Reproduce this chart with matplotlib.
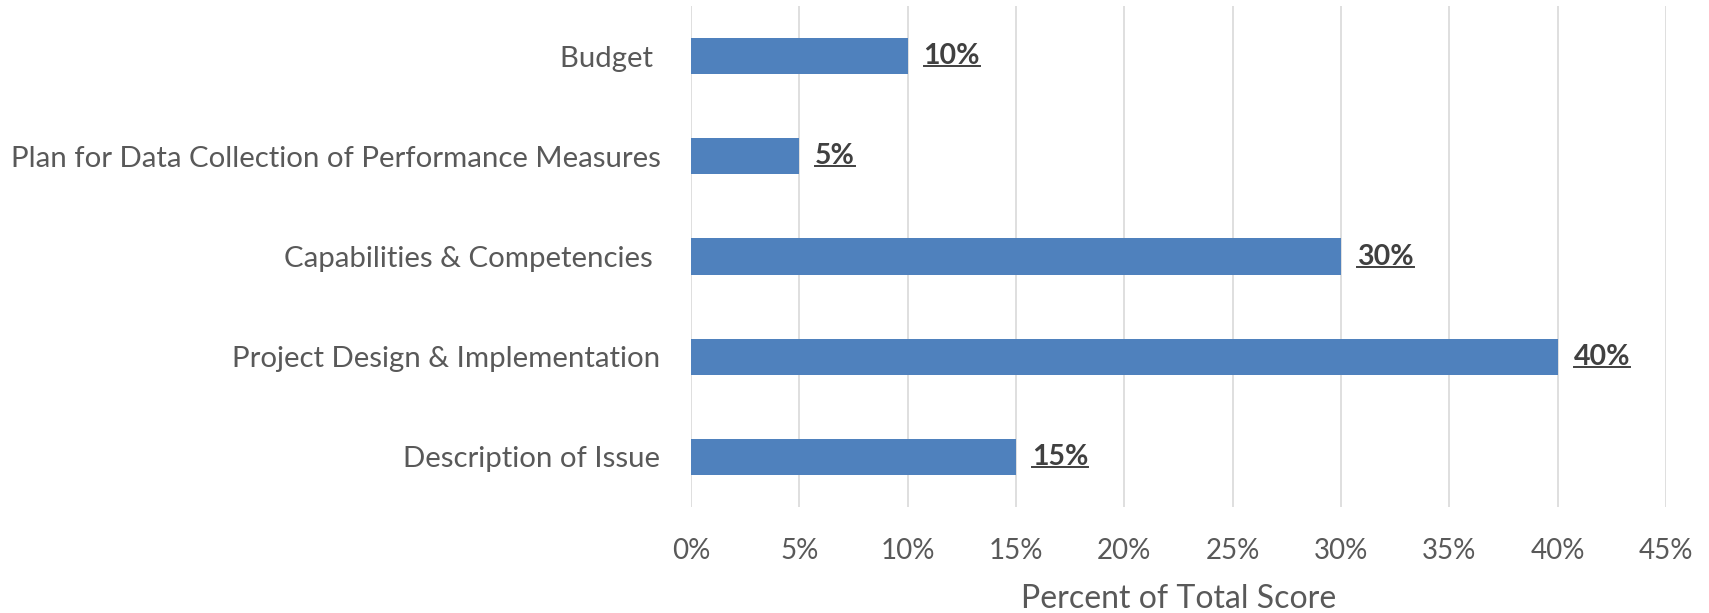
import matplotlib
matplotlib.use("Agg")
import matplotlib.pyplot as plt
from matplotlib.lines import Line2D
from matplotlib.ticker import FuncFormatter

# criteria, bottom to top as drawn
categories = ["Description of Issue", "Project Design & Implementation",
              "Capabilities & Competencies ", "Plan for Data Collection of Performance Measures",
              "Budget "]
weights = [15, 40, 30, 5, 10]
xticks = [0, 5, 10, 15, 20, 25, 30, 35, 40, 45]

plt.rcParams['font.family'] = ['Lato', 'DejaVu Sans']

fig = plt.figure(figsize=(17.09, 6.13), dpi=100)
ax = fig.add_axes([0.4043, 0.1729, 0.5705, 0.8173])

ypos = list(range(len(categories)))
ax.barh(ypos, weights, height=0.36, color="#4f81bd", zorder=3)

ax.set_xlim(0, 45)
ax.set_ylim(-0.5, 4.5)
ax.set_xticks(xticks)
ax.xaxis.set_major_formatter(FuncFormatter(lambda v, p: "%d%%" % v))
ax.set_yticks(ypos)
ax.set_yticklabels(categories)
ax.tick_params(axis="both", length=0, labelsize=20, colors="#595959")
ax.tick_params(axis="y", pad=22, labelsize=21.2)
ax.tick_params(axis="x", pad=22)
ax.grid(axis="x", color="#d9d9d9", linewidth=1.2, zorder=0)
for s in ax.spines.values():
    s.set_visible(False)
ax.set_xlabel("Percent of Total Score", fontsize=23, color="#595959", labelpad=15)

labels = []
for y, w in zip(ypos, weights):
    t = ax.annotate("%d%%" % w, (w, y), xytext=(11.5, 0), textcoords="offset points",
                    va="center", ha="left", fontsize=20.5, fontweight="bold", color="#404040")
    labels.append(t)

# underline the data labels
fig.canvas.draw()
r = fig.canvas.get_renderer()
for t in labels:
    bb = t.get_window_extent(r)
    yline = bb.y0 + 3
    fig.add_artist(Line2D([bb.x0, bb.x1], [yline, yline], transform=None,
                          color="#404040", linewidth=1.4))

fig.savefig("out.png", dpi=100)
